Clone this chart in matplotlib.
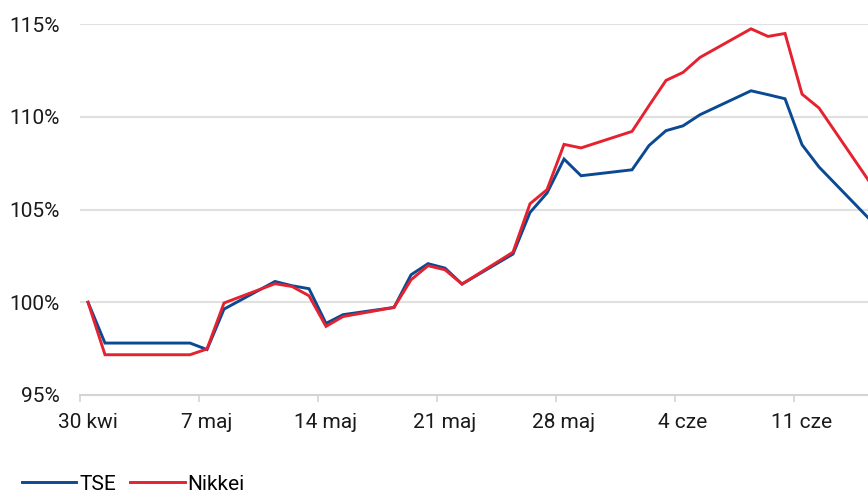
import numpy as np
import matplotlib
matplotlib.use("Agg")
import matplotlib.pyplot as plt
import matplotlib.dates as mdates
from matplotlib.ticker import FixedLocator, FuncFormatter, NullFormatter

plt.rcParams['font.family'] = ['Roboto', 'DejaVu Sans']

dates = np.array([
    "2020-04-30", "2020-05-01", "2020-05-06", "2020-05-07", "2020-05-08",
    "2020-05-11", "2020-05-12", "2020-05-13", "2020-05-14", "2020-05-15",
    "2020-05-18", "2020-05-19", "2020-05-20", "2020-05-21", "2020-05-22",
    "2020-05-25", "2020-05-26", "2020-05-27", "2020-05-28", "2020-05-29",
    "2020-06-01", "2020-06-02", "2020-06-03", "2020-06-04", "2020-06-05",
    "2020-06-08", "2020-06-09", "2020-06-10", "2020-06-11", "2020-06-12",
    "2020-06-15",
], dtype="datetime64[D]")

tse = [100.0, 97.8, 97.8, 97.45, 99.63,
       101.12, 100.89, 100.73, 98.86, 99.33,
       99.72, 101.48, 102.08, 101.84, 100.98,
       102.6, 104.84, 105.89, 107.72, 106.82,
       107.14, 108.45, 109.25, 109.51, 110.11,
       111.40, 111.19, 110.97, 108.49, 107.29,
       104.45]

nikkei = [100.0, 97.17, 97.17, 97.48, 99.96,
          101.0, 100.85, 100.35, 98.70, 99.23,
          99.72, 101.21, 101.97, 101.75, 100.98,
          102.7, 105.31, 106.07, 108.51, 108.32,
          109.21, 110.6, 111.96, 112.39, 113.2,
          114.74, 114.33, 114.49, 111.22, 110.47,
          106.45]

label_dates = np.array(["2020-04-30", "2020-05-07", "2020-05-14", "2020-05-21",
                        "2020-05-28", "2020-06-04", "2020-06-11"], dtype="datetime64[D]")
tick_labels = ["30 kwi", "7 maj", "14 maj", "21 maj", "28 maj", "4 cze", "11 cze"]
y_ticks = [95, 100, 105, 110, 115]

blue = "#0b4a92"
red = "#e42230"
grid_col = "#e0e0e0"

fig = plt.figure(figsize=(8.68, 4.96), dpi=100)
ax = fig.add_axes([79.5 / 868, 101 / 496, 1 - 79.5 / 868, 371 / 496])

x = mdates.date2num(dates.astype("datetime64[s]").astype(object))
lx = mdates.date2num(label_dates.astype("datetime64[s]").astype(object))

ax.plot(x, tse, color=blue, lw=2.1, label="TSE", solid_joinstyle="miter")
ax.plot(x, nikkei, color=red, lw=2.1, label="Nikkei", solid_joinstyle="miter")

ax.set_xlim(x[0] - 0.5, x[0] + 45.88)
ax.set_ylim(95, 115)

# tick marks sit between days, labels sit on the days
ax.xaxis.set_major_locator(FixedLocator(lx - 0.5))
ax.xaxis.set_major_formatter(NullFormatter())
ax.xaxis.set_minor_locator(FixedLocator(lx))
ax.xaxis.set_minor_formatter(FuncFormatter(lambda v, p: tick_labels[p] if p < len(tick_labels) else ""))
ax.tick_params(axis="x", which="major", length=5, width=1.2, color="#d4d4d4", direction="out")
ax.tick_params(axis="x", which="minor", length=0, pad=13, labelsize=15, labelcolor="#1a1a1a")

ax.set_yticks(y_ticks)
ax.set_yticklabels([f"{v}%" for v in y_ticks])
ax.tick_params(axis="y", length=0, pad=14, labelsize=15, labelcolor="#1a1a1a")

for v in y_ticks[1:]:
    ax.axhline(v, color=grid_col, lw=1.5, zorder=0)

for s in ["top", "right", "left"]:
    ax.spines[s].set_visible(False)
ax.spines["bottom"].set_color("#d4d4d4")
ax.spines["bottom"].set_linewidth(1.5)
ax.spines["bottom"].set_zorder(0)

fig.legend(loc="lower left", bbox_to_anchor=(0.0155, -0.012), ncol=2, frameon=False,
           fontsize=15, handlelength=2.6, handletextpad=0.15, columnspacing=0.7,
           borderaxespad=0)

fig.savefig("out.png", dpi=100)
